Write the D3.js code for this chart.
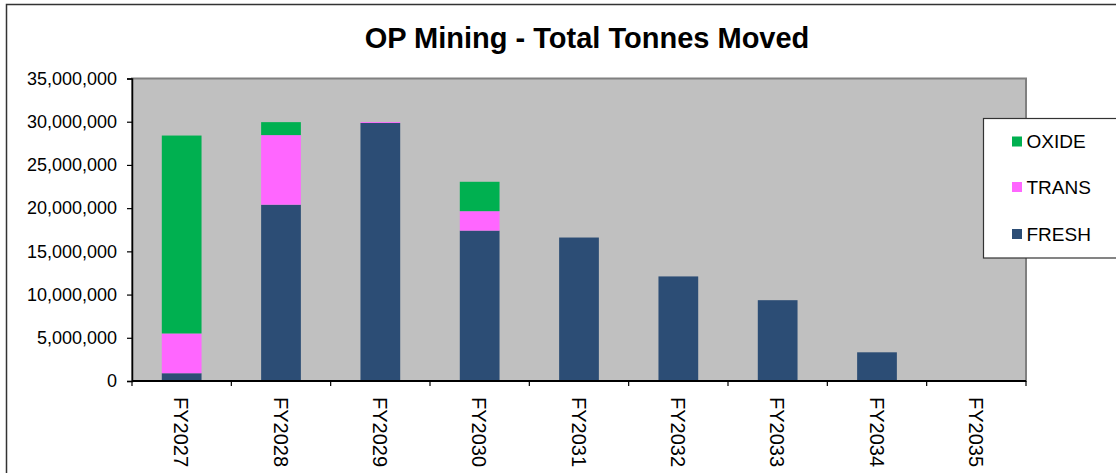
<!DOCTYPE html>
<html>
<head>
<meta charset="utf-8">
<script src="https://cdn.jsdelivr.net/npm/d3@7"></script>
<style>
  html, body { margin: 0; padding: 0; background: #fff; }
  svg { display: block; font-family: "Liberation Sans", Arial, sans-serif; }
</style>
</head>
<body>
<svg id="chart" width="1116" height="473"></svg>
<script>
const categories = ["FY2027","FY2028","FY2029","FY2030","FY2031","FY2032","FY2033","FY2034","FY2035"];
const fresh = [900000, 20400000, 29850000, 17400000, 16600000, 12100000, 9350000, 3320000, 0];
const trans = [4600000, 8050000, 100000, 2250000, 0, 0, 0, 0, 0];
const oxide = [22900000, 1500000, 0, 3400000, 0, 0, 0, 0, 0];
const seriesNames = ["FRESH", "TRANS", "OXIDE"];
const seriesColors = {FRESH: "#2C4D75", TRANS: "#FF66FF", OXIDE: "#00B050"};
const yTicks = [0, 5000000, 10000000, 15000000, 20000000, 25000000, 30000000, 35000000];
const title = "OP Mining - Total Tonnes Moved";

const svg = d3.select("#chart");

// outer chart border
svg.append("rect").attr("x", 6.5).attr("y", 4.5).attr("width", 1130).attr("height", 500)
  .attr("fill", "#fff").attr("stroke", "#333").attr("stroke-width", 1.5);

const plot = {left: 132, top: 78.5, right: 1026, bottom: 381};

const x = d3.scaleBand().domain(categories).range([plot.left, plot.right]).paddingInner(0.6).paddingOuter(0.3);
const y = d3.scaleLinear().domain([0, 35000000]).range([plot.bottom, plot.top]);

// plot background
svg.append("rect").attr("x", plot.left).attr("y", plot.top)
  .attr("width", plot.right - plot.left).attr("height", plot.bottom - plot.top)
  .attr("fill", "#C0C0C0").attr("stroke", "#808080").attr("stroke-width", 2);

// stacked bars
const table = categories.map((c, i) => ({cat: c, FRESH: fresh[i], TRANS: trans[i], OXIDE: oxide[i]}));
const stack = d3.stack().keys(seriesNames)(table);
svg.append("g").selectAll("g").data(stack).join("g")
  .attr("fill", d => seriesColors[d.key])
  .selectAll("rect").data(d => d).join("rect")
  .attr("x", d => x(d.data.cat))
  .attr("width", x.bandwidth())
  .attr("y", d => y(d[1]))
  .attr("height", d => Math.max(0, y(d[0]) - y(d[1])));

// y axis
const yAxis = d3.axisLeft(y).tickValues(yTicks).tickSize(5).tickPadding(10)
  .tickFormat(d3.format(","));
const gy = svg.append("g").attr("transform", `translate(${plot.left},0)`).call(yAxis);
gy.select(".domain").attr("stroke", "#000").attr("stroke-width", 1.5);
gy.selectAll(".tick line").attr("stroke", "#000").attr("stroke-width", 1.2);
gy.selectAll("text").attr("font-size", 18).attr("fill", "#000")
  .attr("font-family", "'Liberation Sans', Arial, sans-serif");

// x axis with ticks between categories
const xAxisG = svg.append("g");
xAxisG.append("line").attr("x1", plot.left).attr("x2", plot.right)
  .attr("y1", plot.bottom).attr("y2", plot.bottom).attr("stroke", "#000").attr("stroke-width", 2);
const boundaries = d3.range(categories.length + 1).map(i => plot.left + i * (plot.right - plot.left) / categories.length);
xAxisG.selectAll(".xt").data(boundaries).join("line")
  .attr("x1", d => d).attr("x2", d => d).attr("y1", plot.bottom).attr("y2", plot.bottom + 5)
  .attr("stroke", "#000").attr("stroke-width", 1.2);
const xFs = 20;
xAxisG.selectAll(".xl").data(categories).join("text")
  .attr("transform", d => `translate(${x(d) + x.bandwidth() / 2 - 0.36 * xFs},${plot.bottom + 16}) rotate(90)`)
  .attr("text-anchor", "start").attr("font-size", xFs).attr("fill", "#000")
  .text(d => d);

// title
svg.append("text").attr("x", 587).attr("y", 47.5).attr("text-anchor", "middle")
  .attr("font-size", 29).attr("font-weight", "bold").attr("fill", "#000").text(title);

// legend
const lg = svg.append("g");
lg.append("rect").attr("x", 983.5).attr("y", 118.5).attr("width", 140).attr("height", 139.5)
  .attr("fill", "#fff").attr("stroke", "#333").attr("stroke-width", 1.2);
const legendOrder = ["OXIDE", "TRANS", "FRESH"];
const legendY = [141.5, 187, 234];
legendOrder.forEach((k, i) => {
  lg.append("rect").attr("x", 1012).attr("y", legendY[i] - 5).attr("width", 10).attr("height", 10)
    .attr("fill", seriesColors[k]);
  lg.append("text").attr("x", 1026.5).attr("y", legendY[i] + 6.8).attr("font-size", 19).attr("fill", "#000").text(k);
});
</script>
</body>
</html>
